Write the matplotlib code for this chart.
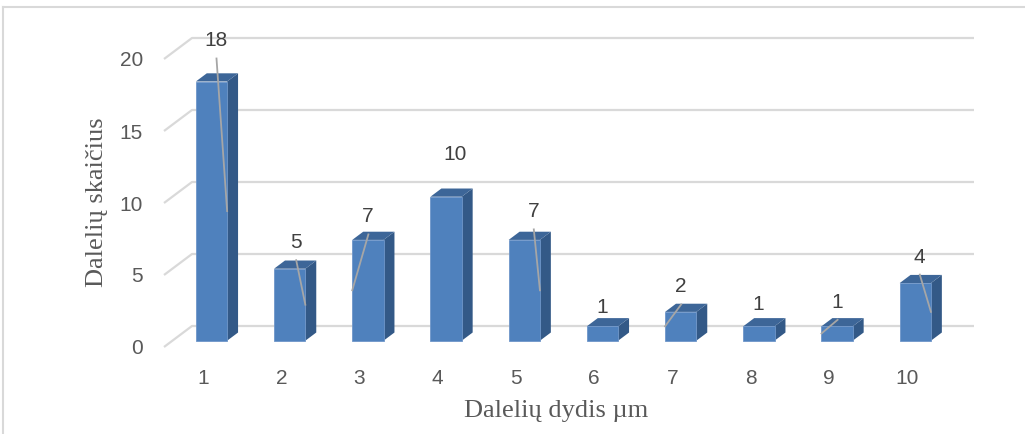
import numpy as np
import matplotlib
matplotlib.use("Agg")
import matplotlib.pyplot as plt
from matplotlib.patches import Polygon
from matplotlib.lines import Line2D

# particle size classes and counts
sizes = ["1", "2", "3", "4", "5", "6", "7", "8", "9", "10"]
counts = [18, 5, 7, 10, 7, 1, 2, 1, 1, 4]
y_ticks = [0, 5, 10, 15, 20]

# data labels were dragged by hand: offset from the bar top (in px)
label_dx_px = [4.5, 6, 0, 9, 9, 0, 0, -1, 0, 4]
label_dy_px = [40.5, 26, 23, 42, 28, 19, 25, 22, 24, 26]
# which front edge the leader line goes to (0 = no leader)
leader_side = [1, 1, -1, 0, 1, 0, -1, 0, -1, 1]

# screen scale of the chart (px per category / px per count)
PX_CAT = 78.2
PX_VAL = 14.4
# oblique offset of the 3-D box, back wall -> front edge
DX = -28 / PX_CAT
DY = -21 / PX_VAL
FRONT, BACK = 0.70, 0.31
HALF_W = 0.2

FACE = "#4F81BD"
SIDE = "#335987"
TOP = "#3D6698"
GRID = "#D9D9D9"
TXT = "#595959"

fig = plt.figure(figsize=(10.25, 4.34), dpi=100)
ax = fig.add_axes([0, 0, 1, 1])
ax.set_xlim((0 - 192) / PX_CAT + 0.5, (1025 - 192) / PX_CAT + 0.5)
ax.set_ylim((326 - 434) / PX_VAL, 326 / PX_VAL)
ax.axis("off")


def proj(x, v, d):
    return (x + d * DX, v + d * DY)


# back wall gridlines with the slanted piece on the left
for t in y_ticks:
    pts = [proj(0.5, t, 1), proj(0.5, t, 0), proj(len(sizes) + 0.5, t, 0)]
    xs, ys = zip(*pts)
    ax.plot(xs, ys, color=GRID, lw=1.6, zorder=1, solid_capstyle="butt")
    lx, ly = proj(0.5, t, 1)
    ax.text(lx - 21 / PX_CAT, ly - 2 / PX_VAL, str(t), ha="right", va="center",
            fontsize=15, color=TXT, family="Liberation Sans")

for i, (lab, v) in enumerate(zip(sizes, counts)):
    x = i + 1
    xl, xr = x - HALF_W, x + HALF_W
    front = [proj(xl, 0, FRONT), proj(xr, 0, FRONT), proj(xr, v, FRONT), proj(xl, v, FRONT)]
    side = [proj(xr, 0, FRONT), proj(xr, 0, BACK), proj(xr, v, BACK), proj(xr, v, FRONT)]
    top = [proj(xl, v, FRONT), proj(xr, v, FRONT), proj(xr, v, BACK), proj(xl, v, BACK)]
    ax.add_patch(Polygon(side, closed=True, fc=SIDE, ec="none", zorder=3))
    ax.add_patch(Polygon(top, closed=True, fc=TOP, ec="none", zorder=3))
    ax.add_patch(Polygon(front, closed=True, fc=FACE, ec="#6F96C9", lw=0.6, zorder=4))

    # category label under the front of the box
    cx, cy = proj(x, 0, 1)
    ax.text(cx, cy - 31 / PX_VAL, lab, ha="center", va="center",
            fontsize=15, color=TXT, family="Liberation Sans")

    # value label + leader line
    tx, ty = proj(x, v, FRONT)
    lxp = tx + label_dx_px[i] / PX_CAT
    lyp = ty + label_dy_px[i] / PX_VAL
    ax.text(lxp, lyp, str(v), ha="center", va="center", fontsize=15,
            color="#404040", family="Liberation Sans", zorder=6)
    s = leader_side[i]
    if s != 0:
        ex, ey = proj(x + s * HALF_W, v / 2, FRONT)
        ax.plot([lxp + 0.5 / PX_CAT, ex], [lyp - 17.5 / PX_VAL, ey],
                color="#A6A6A6", lw=1.3, zorder=5)

ax.text((97 - 192) / PX_CAT + 0.5, (326 - 202) / PX_VAL, "Dalelių skaičius",
        rotation=90, ha="center", va="center", fontsize=19, color=TXT,
        family="Liberation Serif")
ax.text((556 - 192) / PX_CAT + 0.5, (326 - 411) / PX_VAL, "Dalelių dydis µm",
        ha="center", va="center", fontsize=19, color=TXT, family="Liberation Serif")

# chart frame (only top and left edges show)
W, H = 1025, 434
fig.add_artist(Line2D([3 / W, 1], [1 - 7 / H, 1 - 7 / H], color="#D9D9D9", lw=1.5,
                      transform=fig.transFigure))
fig.add_artist(Line2D([3 / W, 3 / W], [0, 1 - 7 / H], color="#D9D9D9", lw=1.5,
                      transform=fig.transFigure))

fig.savefig("out.png", dpi=100, facecolor="white")
